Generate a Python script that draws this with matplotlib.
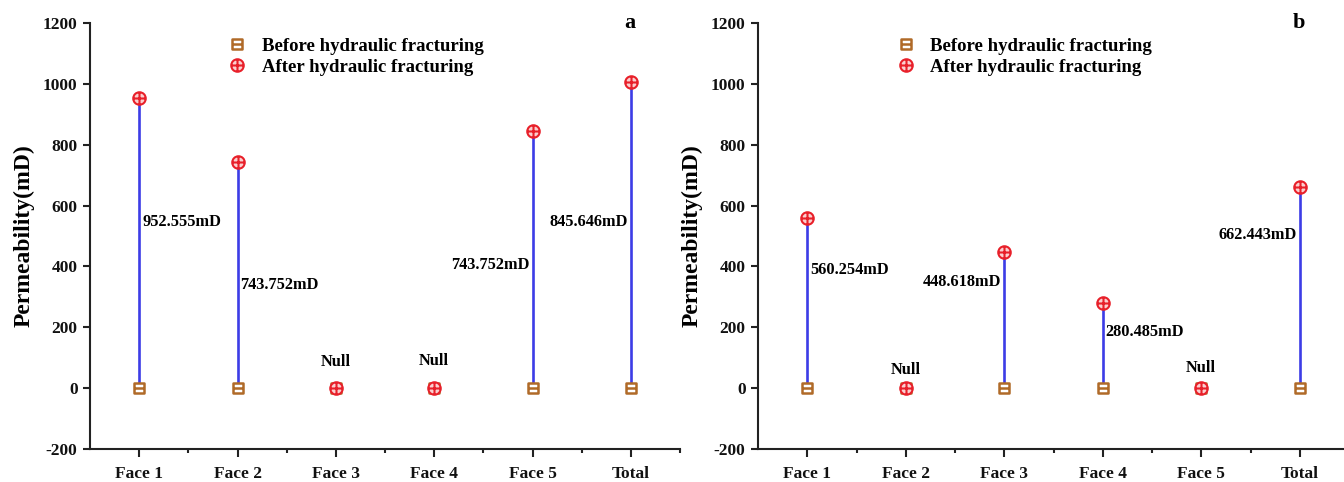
import matplotlib
matplotlib.use("Agg")
import matplotlib.pyplot as plt
from matplotlib.path import Path
from matplotlib.ticker import MultipleLocator, FixedLocator

plt.rcParams["font.family"] = ["Liberation Serif", "DejaVu Serif"]
plt.rcParams["font.weight"] = "bold"
plt.rcParams["axes.unicode_minus"] = False

CATEGORIES = ["Face 1", "Face 2", "Face 3", "Face 4", "Face 5", "Total"]

BEFORE_A = [0, 0, 0, 0, 0, 0]
AFTER_A = [952.555, 743.752, 0, 0, 845.646, 1006]
LABELS_A = ["952.555mD", "743.752mD", "Null", "Null", "743.752mD", "845.646mD"]
LABEL_Y_A = [545, 338, 86, 90, 404, 545]
LABEL_SIDE_A = ["left", "left", "center", "center", "right", "right"]

BEFORE_B = [0, 0, 0, 0, 0, 0]
AFTER_B = [560.254, 0, 448.618, 280.485, 0, 662.443]
LABELS_B = ["560.254mD", "Null", "448.618mD", "280.485mD", "Null", "662.443mD"]
LABEL_Y_B = [387, 59, 348, 184, 66, 502]
LABEL_SIDE_B = ["left", "center", "right", "left", "center", "right"]

BROWN = "#b06a28"
RED = "#e8202a"
BLUE = "#3c3ce6"

# square with a line through the middle, circle with a cross
sq = Path([(-1, -1), (1, -1), (1, 1), (-1, 1), (-1, -1), (-1, 0), (1, 0)],
          [Path.MOVETO, Path.LINETO, Path.LINETO, Path.LINETO, Path.CLOSEPOLY,
           Path.MOVETO, Path.LINETO])
cross = Path([(-1, 0), (1, 0), (0, -1), (0, 1)],
             [Path.MOVETO, Path.LINETO, Path.MOVETO, Path.LINETO])
circ = Path.make_compound_path(Path.unit_circle(), cross)


def panel(ax, before, after, labels, label_y, sides, tag):
    x = list(range(1, len(CATEGORIES) + 1))
    ax.vlines(x, before, after, color=BLUE, lw=1.9, zorder=1)
    ax.plot(x, before, ls="none", marker=sq, ms=7.5, mfc="white", mec=BROWN,
            mew=1.8, label="Before hydraulic fracturing", zorder=2)
    ax.plot(x, after, ls="none", marker=circ, ms=9, mfc="#fbd0d0", mec=RED,
            mew=1.5, label="After hydraulic fracturing", zorder=3)

    for xi, txt, ty, side in zip(x, labels, label_y, sides):
        dx = {"left": 0.03, "right": -0.03, "center": 0}[side]
        ax.text(xi + dx, ty, txt, ha=side, va="center", fontsize=11.8,
                fontweight="bold")

    ax.set_xlim(0.5, 6.5)
    ax.set_ylim(-200, 1200)
    ax.set_xticks(x)
    ax.set_xticklabels(CATEGORIES)
    ax.xaxis.set_minor_locator(FixedLocator([1.5, 2.5, 3.5, 4.5, 5.5, 6.5]))
    ax.yaxis.set_major_locator(MultipleLocator(200))
    ax.spines["top"].set_visible(False)
    ax.spines["right"].set_visible(False)
    for s in ("left", "bottom"):
        ax.spines[s].set_linewidth(1.5)
        ax.spines[s].set_color("#222222")
    ax.tick_params(axis="both", which="major", length=5, width=1.5,
                   labelsize=12.5, colors="#222222", pad=4)
    ax.tick_params(axis="x", which="minor", length=3, width=1.5, color="#222222")
    ax.tick_params(axis="x", which="major", length=6, pad=6)
    for t in ax.get_xticklabels() + ax.get_yticklabels():
        t.set_fontweight("bold")
        t.set_color("#111111")
    ax.set_ylabel("Permeability(mD)", fontsize=17, fontweight="bold", labelpad=6)

    ax.legend(loc="upper left", bbox_to_anchor=(0.234, 0.965), frameon=False,
              handlelength=1.0, handletextpad=0.8,
              labelspacing=0.2, borderpad=0, borderaxespad=0,
              prop={"weight": "bold", "size": 13.5})
    ax.text(0.915, 1.0, tag, transform=ax.transAxes, ha="center", va="center",
            fontsize=16, fontweight="bold")


fig = plt.figure(figsize=(13.44, 4.82), dpi=100)
W, H = 1344, 482
ax1 = fig.add_axes([90 / W, 1 - 449 / H, 590 / W, 426 / H])
ax2 = fig.add_axes([758 / W, 1 - 449 / H, 591 / W, 426 / H])

panel(ax1, BEFORE_A, AFTER_A, LABELS_A, LABEL_Y_A, LABEL_SIDE_A, "a")
panel(ax2, BEFORE_B, AFTER_B, LABELS_B, LABEL_Y_B, LABEL_SIDE_B, "b")

fig.savefig("out.png", dpi=100)
